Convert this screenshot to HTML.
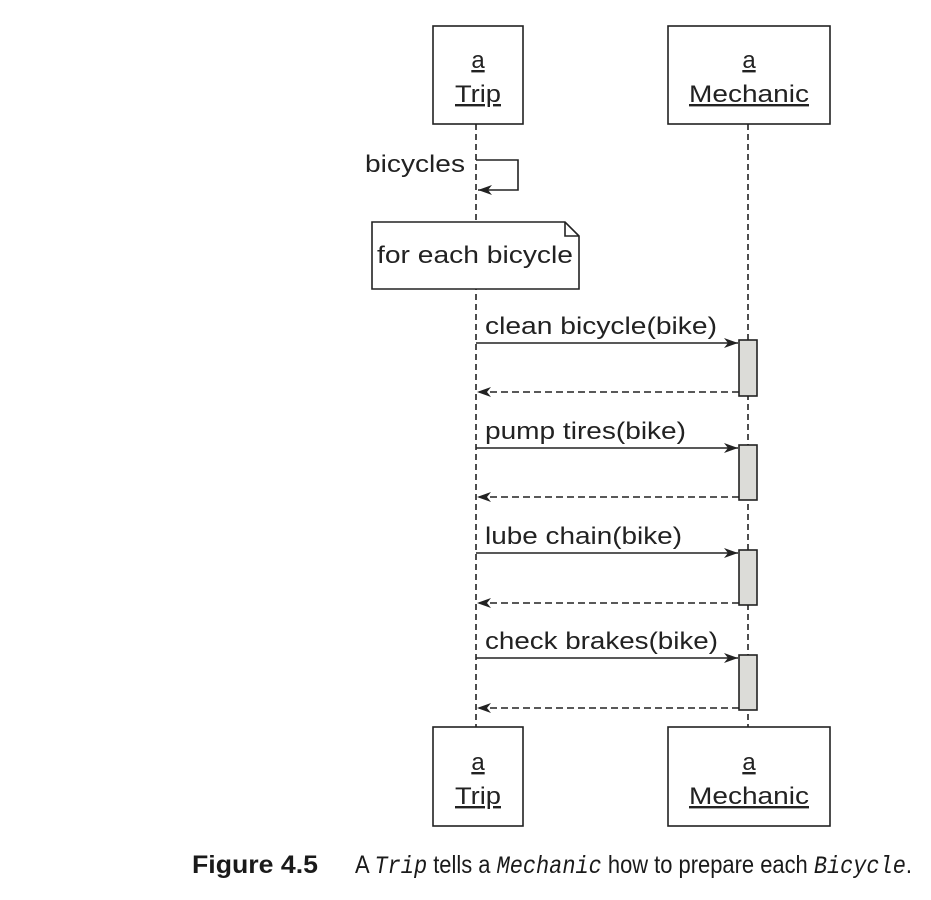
<!DOCTYPE html>
<html><head><meta charset="utf-8"><style>body{margin:0;background:#fff}svg{display:block}</style></head>
<body>
<svg width="931" height="900" viewBox="0 0 931 900" xmlns="http://www.w3.org/2000/svg" font-family="Liberation Sans, sans-serif" fill="#222">
<defs>
<marker id="ah" viewBox="0 0 14 10" refX="14" refY="5" markerWidth="14" markerHeight="10" markerUnits="userSpaceOnUse" orient="auto"><path d="M0,0 L14,5 L0,10 L4,5 z" fill="#222"/></marker>
</defs>
<g stroke="#222" stroke-width="1.6" fill="none">
<line x1="476" y1="124" x2="476" y2="727" stroke-dasharray="6,4"/>
<line x1="748" y1="124" x2="748" y2="727" stroke-dasharray="6,4"/>
<rect x="433" y="26" width="90" height="98" fill="#fff"/>
<rect x="668" y="26" width="162" height="98" fill="#fff"/>
<rect x="433" y="727" width="90" height="99" fill="#fff"/>
<rect x="668" y="727" width="162" height="99" fill="#fff"/>
<polyline points="476,160 518,160 518,190 478,190" marker-end="url(#ah)"/>
<path d="M372,222 H565 L579,236 V289 H372 Z" fill="#fff"/>
<path d="M565,222 V236 H579"/>
</g>
<g font-size="24" text-anchor="middle">
<text x="478" y="68" text-decoration="underline">a</text>
<text x="478" y="102" text-decoration="underline" textLength="46" lengthAdjust="spacingAndGlyphs">Trip</text>
<text x="749" y="68" text-decoration="underline">a</text>
<text x="749" y="102" text-decoration="underline" textLength="120" lengthAdjust="spacingAndGlyphs">Mechanic</text>
<text x="478" y="770" text-decoration="underline">a</text>
<text x="478" y="804" text-decoration="underline" textLength="46" lengthAdjust="spacingAndGlyphs">Trip</text>
<text x="749" y="770" text-decoration="underline">a</text>
<text x="749" y="804" text-decoration="underline" textLength="120" lengthAdjust="spacingAndGlyphs">Mechanic</text>
</g>
<g font-size="24">
<text x="365" y="172" textLength="100" lengthAdjust="spacingAndGlyphs">bicycles</text>
<text x="377" y="263" textLength="196" lengthAdjust="spacingAndGlyphs">for each bicycle</text>
<text x="485" y="334" textLength="232" lengthAdjust="spacingAndGlyphs">clean bicycle(bike)</text>
<text x="485" y="439" textLength="201" lengthAdjust="spacingAndGlyphs">pump tires(bike)</text>
<text x="485" y="544" textLength="197" lengthAdjust="spacingAndGlyphs">lube chain(bike)</text>
<text x="485" y="649" textLength="233" lengthAdjust="spacingAndGlyphs">check brakes(bike)</text>
</g>
<g stroke="#222" stroke-width="1.6">
<line x1="476" y1="343" x2="738" y2="343" marker-end="url(#ah)"/>
<line x1="476" y1="448" x2="738" y2="448" marker-end="url(#ah)"/>
<line x1="476" y1="553" x2="738" y2="553" marker-end="url(#ah)"/>
<line x1="476" y1="658" x2="738" y2="658" marker-end="url(#ah)"/>
<line x1="739" y1="392" x2="477" y2="392" stroke-dasharray="7,4" marker-end="url(#ah)"/>
<line x1="739" y1="497" x2="477" y2="497" stroke-dasharray="7,4" marker-end="url(#ah)"/>
<line x1="739" y1="603" x2="477" y2="603" stroke-dasharray="7,4" marker-end="url(#ah)"/>
<line x1="739" y1="708" x2="477" y2="708" stroke-dasharray="7,4" marker-end="url(#ah)"/>
<rect x="739" y="340" width="18" height="56" fill="#dcdcd8"/>
<rect x="739" y="445" width="18" height="55" fill="#dcdcd8"/>
<rect x="739" y="550" width="18" height="55" fill="#dcdcd8"/>
<rect x="739" y="655" width="18" height="55" fill="#dcdcd8"/>
</g>
<g font-size="25" fill="#1a1a1a">
<text x="192" y="873" font-weight="bold" textLength="126" lengthAdjust="spacingAndGlyphs">Figure 4.5</text>
<text x="355" y="873" textLength="557" lengthAdjust="spacingAndGlyphs">A <tspan font-family="Liberation Mono, monospace" font-style="italic">Trip</tspan> tells a <tspan font-family="Liberation Mono, monospace" font-style="italic">Mechanic</tspan> how to prepare each <tspan font-family="Liberation Mono, monospace" font-style="italic">Bicycle</tspan>.</text>
</g>
</svg>
</body></html>
